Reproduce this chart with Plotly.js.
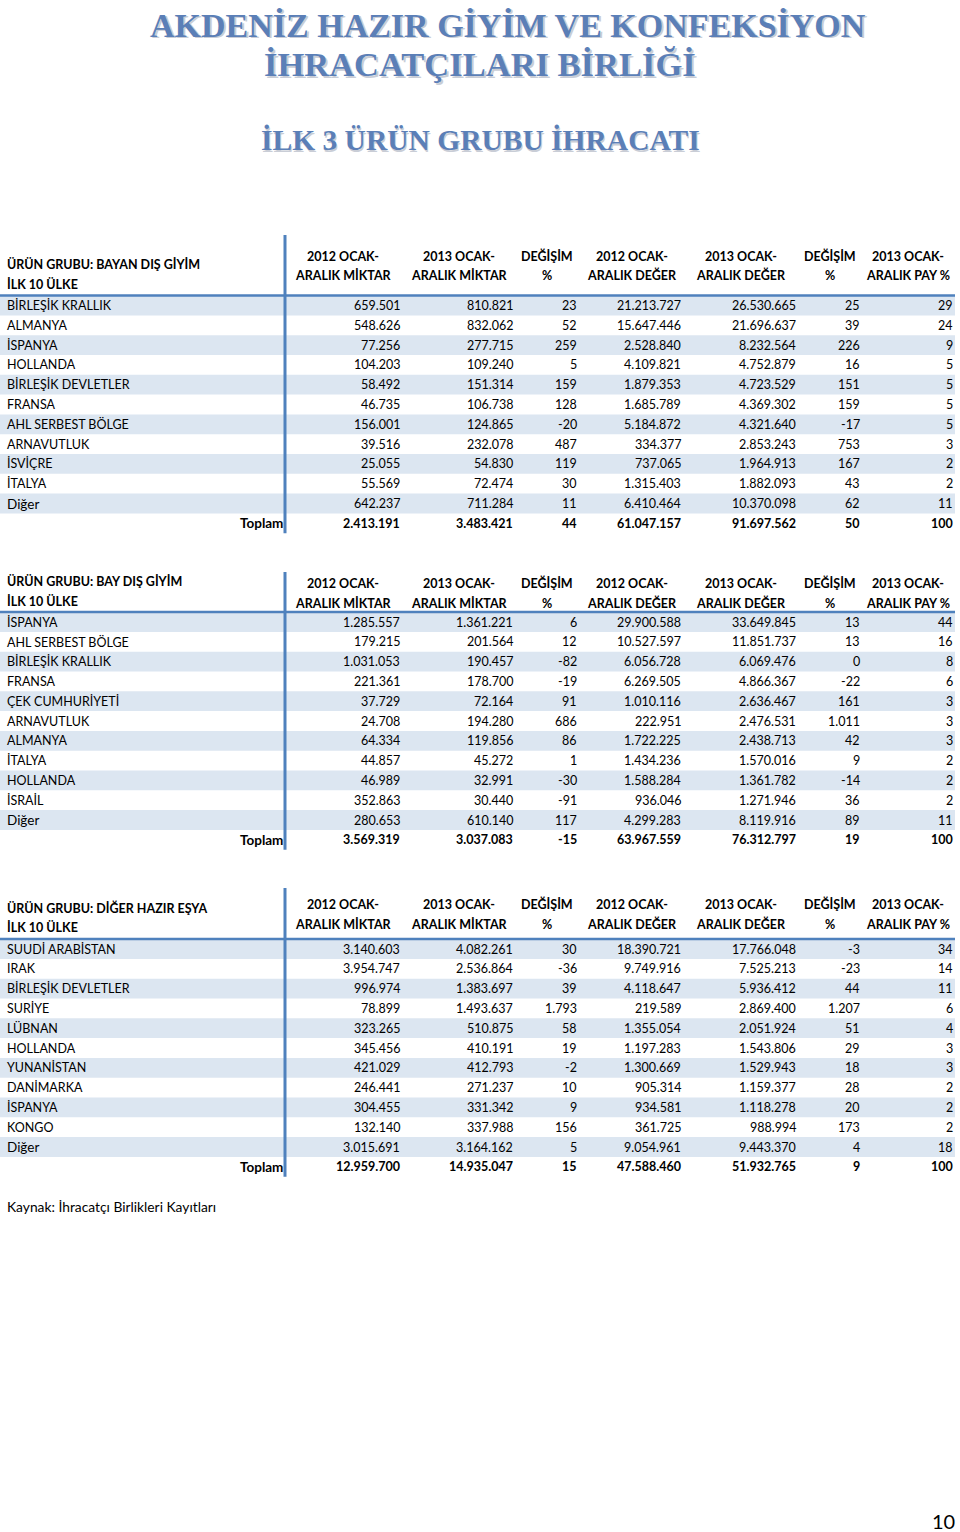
<!DOCTYPE html>
<html><head><meta charset="utf-8">
<script src="https://cdn.plot.ly/plotly-3.0.1.min.js"></script>
<style>html,body{margin:0;padding:0;background:#fff;}#chart{width:960px;height:1532px;}</style>
</head><body><div id="chart"></div>
<script>
// ---------- DATA ----------
const titleLines = ["AKDENİZ HAZIR GİYİM VE KONFEKSİYON", "İHRACATÇILARI BİRLİĞİ"];
const subTitle = "İLK 3 ÜRÜN GRUBU İHRACATI";
const colHead1 = ["2012 OCAK-", "2013 OCAK-", "DEĞİŞİM", "2012 OCAK-", "2013 OCAK-", "DEĞİŞİM", "2013 OCAK-"];
const colHead2 = ["ARALIK MİKTAR", "ARALIK MİKTAR", "%", "ARALIK DEĞER", "ARALIK DEĞER", "%", "ARALIK PAY %"];
const totalLabel = "Toplam";
const sourceNote = "Kaynak: İhracatçı Birlikleri Kayıtları";
const pageNumber = "10";

// Table 1
const group1 = "ÜRÜN GRUBU: BAYAN DIŞ GİYİM";
const countries1 = ["BİRLEŞİK KRALLIK","ALMANYA","İSPANYA","HOLLANDA","BİRLEŞİK DEVLETLER","FRANSA","AHL SERBEST BÖLGE","ARNAVUTLUK","İSVİÇRE","İTALYA","Diğer"];
const qty2012_1 = [659501,548626,77256,104203,58492,46735,156001,39516,25055,55569,642237];
const qty2013_1 = [810821,832062,277715,109240,151314,106738,124865,232078,54830,72474,711284];
const qtyChg_1  = [23,52,259,5,159,128,-20,487,119,30,11];
const val2012_1 = [21213727,15647446,2528840,4109821,1879353,1685789,5184872,334377,737065,1315403,6410464];
const val2013_1 = [26530665,21696637,8232564,4752879,4723529,4369302,4321640,2853243,1964913,1882093,10370098];
const valChg_1  = [25,39,226,16,151,159,-17,753,167,43,62];
const share_1   = [29,24,9,5,5,5,5,3,2,2,11];
const total_1   = [2413191,3483421,44,61047157,91697562,50,100];

// Table 2
const group2 = "ÜRÜN GRUBU: BAY DIŞ GİYİM";
const countries2 = ["İSPANYA","AHL SERBEST BÖLGE","BİRLEŞİK KRALLIK","FRANSA","ÇEK CUMHURİYETİ","ARNAVUTLUK","ALMANYA","İTALYA","HOLLANDA","İSRAİL","Diğer"];
const qty2012_2 = [1285557,179215,1031053,221361,37729,24708,64334,44857,46989,352863,280653];
const qty2013_2 = [1361221,201564,190457,178700,72164,194280,119856,45272,32991,30440,610140];
const qtyChg_2  = [6,12,-82,-19,91,686,86,1,-30,-91,117];
const val2012_2 = [29900588,10527597,6056728,6269505,1010116,222951,1722225,1434236,1588284,936046,4299283];
const val2013_2 = [33649845,11851737,6069476,4866367,2636467,2476531,2438713,1570016,1361782,1271946,8119916];
const valChg_2  = [13,13,0,-22,161,1011,42,9,-14,36,89];
const share_2   = [44,16,8,6,3,3,3,2,2,2,11];
const total_2   = [3569319,3037083,-15,63967559,76312797,19,100];

// Table 3
const group3 = "ÜRÜN GRUBU: DİĞER HAZIR EŞYA";
const countries3 = ["SUUDİ ARABİSTAN","IRAK","BİRLEŞİK DEVLETLER","SURİYE","LÜBNAN","HOLLANDA","YUNANİSTAN","DANİMARKA","İSPANYA","KONGO","Diğer"];
const qty2012_3 = [3140603,3954747,996974,78899,323265,345456,421029,246441,304455,132140,3015691];
const qty2013_3 = [4082261,2536864,1383697,1493637,510875,410191,412793,271237,331342,337988,3164162];
const qtyChg_3  = [30,-36,39,1793,58,19,-2,10,9,156,5];
const val2012_3 = [18390721,9749916,4118647,219589,1355054,1197283,1300669,905314,934581,361725,9054961];
const val2013_3 = [17766048,7525213,5936412,2869400,2051924,1543806,1529943,1159377,1118278,988994,9443370];
const valChg_3  = [-3,-23,44,1207,51,29,18,28,20,173,4];
const share_3   = [34,14,11,6,4,3,3,2,2,2,18];
const total_3   = [12959700,14935047,15,47588460,51932765,9,100];

// ---------- LAYOUT HELPERS ----------
const FONT = "Lato, 'Open Sans', sans-serif";
const BLUE = "#4F81BD";
const BAND = "#DCE6F1";
const TITLE_C = "#5B7FB7";
const FS = 12.5;
const FS_MIXED = 13.5;
const ROW_H = 19.8;
const colRight = [401, 514, 578, 682, 797, 861, 954];
const colCenter = [343, 459, 547, 632, 741, 830, 908];

function fmt(n){
  const s = Math.abs(n).toString().replace(/\B(?=(\d{3})+(?!\d))/g, ".");
  return (n < 0 ? "-" : "") + s;
}

const annotations = [];
const shapes = [];
function txt(x, y, t, anchor, opts){
  opts = opts || {};
  annotations.push({
    x: x, y: y, xref: "x", yref: "y", text: t, showarrow: false,
    xanchor: anchor, yanchor: "middle", borderpad: 0,
    font: {family: opts.family || FONT, size: opts.size || FS, color: opts.color || "#000", weight: opts.weight || 400}
  });
}
function isMixed(t){ return t !== t.toUpperCase(); }

function table(cfg){
  const {group, countries, cols, total, firstRowY, titleY, headY, vTop} = cfg;
  const hLineY = firstRowY - ROW_H/2;
  countries.forEach((c, i) => {
    if (i % 2 === 0) {
      const yc = firstRowY + i*ROW_H;
      shapes.push({type:"rect", xref:"x", yref:"y", x0:0, x1:955, y0:yc-ROW_H/2, y1:yc+ROW_H/2,
        fillcolor:BAND, line:{width:0}, layer:"below"});
    }
  });
  const totalY = firstRowY + countries.length*ROW_H;
  shapes.push({type:"line", xref:"x", yref:"y", x0:0, x1:955, y0:hLineY, y1:hLineY, line:{color:BLUE, width:2.5}});
  shapes.push({type:"line", xref:"x", yref:"y", x0:285, x1:285, y0:vTop, y1:totalY+ROW_H/2, line:{color:BLUE, width:3}});
  txt(6, titleY[0], group, "left", {weight:700});
  txt(6, titleY[1], "İLK 10 ÜLKE", "left", {weight:700});
  colHead1.forEach((h, j) => {
    txt(colCenter[j], headY[0], h, "center", {weight:700});
    txt(colCenter[j], headY[1], colHead2[j], "center", {weight:700});
  });
  countries.forEach((c, i) => {
    const yc = firstRowY + i*ROW_H;
    txt(6, yc, c, "left", {size: isMixed(c) ? FS_MIXED : FS});
    cols.forEach((arr, j) => txt(colRight[j], yc, fmt(arr[i]), "right"));
  });
  txt(284, totalY, totalLabel, "right", {weight:700, size:FS_MIXED});
  total.forEach((v, j) => txt(colRight[j], totalY, fmt(v), "right", {weight:700}));
}

function title(x, y, t, size){
  txt(x+1.5, y+1.5, t, "center", {family:"'Liberation Serif', serif", size:size, color:"#C9CDD6", weight:700});
  txt(x, y, t, "center", {family:"'Liberation Serif', serif", size:size, color:TITLE_C, weight:700});
}
title(508, 25, titleLines[0], 34);
title(480, 64, titleLines[1], 34.5);
title(480, 140, subTitle, 29.5);

table({group:group1, countries:countries1,
  cols:[qty2012_1, qty2013_1, qtyChg_1, val2012_1, val2013_1, valChg_1, share_1],
  total: total_1, firstRowY:305.5, titleY:[264,284], headY:[256,275], vTop:235});
table({group:group2, countries:countries2,
  cols:[qty2012_2, qty2013_2, qtyChg_2, val2012_2, val2013_2, valChg_2, share_2],
  total: total_2, firstRowY:622, titleY:[581,601], headY:[583,603], vTop:572});
table({group:group3, countries:countries3,
  cols:[qty2012_3, qty2013_3, qtyChg_3, val2012_3, val2013_3, valChg_3, share_3],
  total: total_3, firstRowY:949, titleY:[908,927], headY:[904,924], vTop:888});

txt(6, 1206, sourceNote, "left", {size:13.8});
txt(956, 1521, pageNumber, "right", {size:20});

const layout = {
  width: 960, height: 1532,
  margin: {l:0, r:0, t:0, b:0},
  paper_bgcolor: "#fff", plot_bgcolor: "#fff",
  showlegend: false,
  xaxis: {range:[0,960], visible:false, fixedrange:true},
  yaxis: {range:[1532,0], visible:false, fixedrange:true},
  shapes: shapes, annotations: annotations
};
Plotly.newPlot("chart", [{x:[], y:[], type:"scatter", mode:"markers", hoverinfo:"skip"}], layout, {displayModeBar:false, staticPlot:true});
</script></body></html>
